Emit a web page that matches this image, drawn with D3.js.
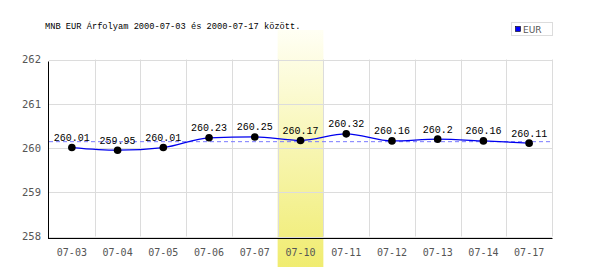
<!DOCTYPE html>
<html><head><meta charset="utf-8">
<script src="https://cdn.jsdelivr.net/npm/d3@7"></script>
<style>body{margin:0;background:#fff}svg{display:block}</style>
</head><body>
<script>
const title = "MNB EUR Árfolyam 2000-07-03 és 2000-07-17 között.";
const categories = ["07-03","07-04","07-05","07-06","07-07","07-10","07-11","07-12","07-13","07-14","07-17"];
const values = [260.01,259.95,260.01,260.23,260.25,260.17,260.32,260.16,260.2,260.16,260.11];
const labels = ["260.01","259.95","260.01","260.23","260.25","260.17","260.32","260.16","260.2","260.16","260.11"];
const yTicks = [258,259,260,261,262];
const highlighted = "07-10";
const seriesName = "EUR";

const W=600,H=270;
const m={l:49,r:48,t:59.5,b:32};
const svg=d3.select("body").append("svg").attr("width",W).attr("height",H);
const defs=svg.append("defs");
const gr=defs.append("linearGradient").attr("id","hl").attr("x1",0).attr("y1",0).attr("x2",0).attr("y2",1);
gr.append("stop").attr("offset","0%").attr("stop-color","#fffff4");
gr.append("stop").attr("offset","100%").attr("stop-color","#f0ec70");

const x=d3.scaleBand().domain(categories).range([m.l,W-m.r]).padding(0);
const y=d3.scaleLinear().domain([258,262]).range([H-m.b-1.5,m.t]);

// highlight band
svg.append("rect").attr("x",x(highlighted)).attr("width",x.bandwidth())
  .attr("y",30).attr("height",237).attr("fill","url(#hl)");

// grid
const g=svg.append("g");
g.selectAll("line.h").data(yTicks).join("line")
  .attr("x1",m.l).attr("x2",W-m.r).attr("y1",d=>Math.round(y(d))+0.5).attr("y2",d=>Math.round(y(d))+0.5)
  .attr("stroke","#dcdcdc");
const vb=categories.slice(1).map(c=>x(c)).concat([W-m.r]);
g.selectAll("line.v").data(vb).join("line")
  .attr("x1",d=>Math.round(d)+0.5).attr("x2",d=>Math.round(d)+0.5).attr("y1",y(262)).attr("y2",y(258))
  .attr("stroke","#dcdcdc");

// axes
const yAxis=svg.append("g").attr("transform",`translate(${m.l},0)`)
  .call(d3.axisLeft(y).tickValues(yTicks).tickFormat(d3.format("d")).tickSize(0).tickPadding(8));
yAxis.select(".domain").remove();
yAxis.selectAll("text").attr("fill","#555").style("font-family","'DejaVu Sans Mono',monospace").style("font-size","10.5px");
svg.append("line").attr("x1",m.l-0.5).attr("x2",m.l-0.5).attr("y1",y(262)+2).attr("y2",H-m.b+0.5).attr("stroke","#000");
const bottomY=H-m.b+0.5;
svg.append("line").attr("x1",m.l-1).attr("x2",W-m.r+0.5).attr("y1",bottomY).attr("y2",bottomY).attr("stroke","#000");
const xAxis=svg.append("g").attr("transform",`translate(0,${bottomY})`)
  .call(d3.axisBottom(x).tickSize(0).tickPadding(10));
xAxis.select(".domain").remove();
xAxis.selectAll("text").attr("fill","#555").style("font-family","'DejaVu Sans Mono',monospace").style("font-size","10px");

// mean line
const mean=d3.mean(values);
svg.append("line").attr("x1",m.l).attr("x2",W-m.r).attr("y1",y(mean)).attr("y2",y(mean))
  .attr("stroke","#7878ff").attr("stroke-dasharray","4,3");

// line
const pts=categories.map((c,i)=>({c,v:values[i],l:labels[i]}));
const line=d3.line().x(d=>x(d.c)+x.bandwidth()/2).y(d=>y(d.v)).curve(d3.curveMonotoneX);
svg.append("path").datum(pts).attr("d",line).attr("fill","none").attr("stroke","#0000ee").attr("stroke-width",1.3);

svg.selectAll("circle.p").data(pts).join("circle")
  .attr("cx",d=>x(d.c)+x.bandwidth()/2).attr("cy",d=>y(d.v)).attr("r",3.8).attr("fill","#000");
svg.selectAll("text.lbl").data(pts).join("text")
  .attr("x",d=>x(d.c)+x.bandwidth()/2).attr("y",d=>y(d.v)-6.5).attr("text-anchor","middle")
  .style("font-family","'Liberation Mono',monospace").style("font-size","10px").attr("fill","#000").text(d=>d.l);

// title
svg.append("text").attr("x",45).attr("y",29).style("font-family","'Liberation Mono',monospace")
  .style("font-size","8.7px").attr("fill","#000").text(title);

// legend
const lg=svg.append("g");
lg.append("rect").attr("x",511.5).attr("y",22.5).attr("width",41).attr("height",13).attr("fill","#fff").attr("stroke","#dcdcdc");
lg.append("rect").attr("x",515.5).attr("y",26.5).attr("width",5).attr("height",5).attr("fill","#0000ff").attr("stroke","#000").attr("stroke-width",0.6);
lg.append("text").attr("x",523).attr("y",33).style("font-family","'DejaVu Sans',sans-serif").style("font-size","9px").attr("fill","#555").text(seriesName);
</script>
</body></html>
